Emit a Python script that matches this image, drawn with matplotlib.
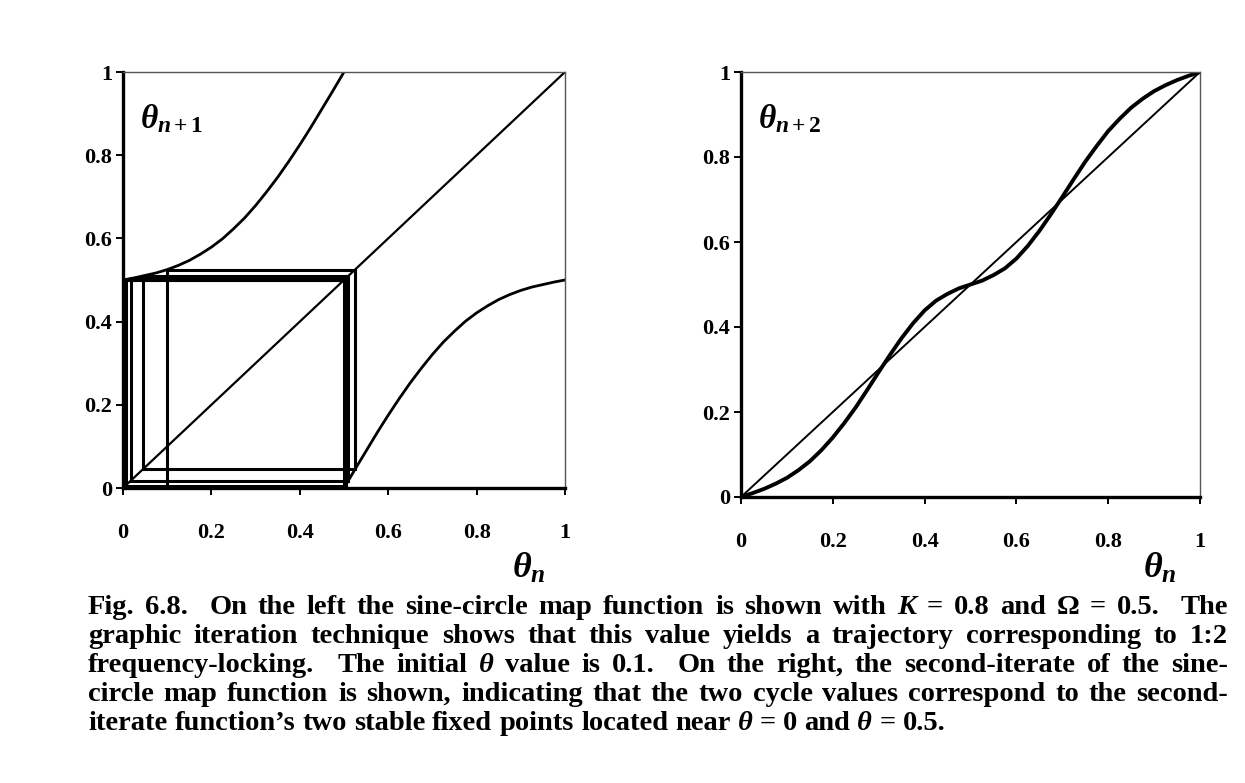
import matplotlib
matplotlib.use("Agg")
import matplotlib.pyplot as plt

plt.rcParams['mathtext.fontset'] = 'custom'
plt.rcParams['mathtext.it'] = 'Liberation Serif:italic:bold'
plt.rcParams['mathtext.rm'] = 'Liberation Serif:bold'
plt.rcParams['mathtext.bf'] = 'Liberation Serif:bold'

# ---------------- data ----------------
theta_left = [0.0, 0.025, 0.05, 0.075, 0.10, 0.125, 0.15, 0.175, 0.20, 0.225, 0.25,
              0.275, 0.30, 0.325, 0.35, 0.375, 0.40, 0.425, 0.45, 0.475, 0.50]
map_upper = [0.500, 0.505, 0.511, 0.517, 0.525, 0.535, 0.547, 0.562, 0.579, 0.599, 0.623,
             0.649, 0.679, 0.712, 0.747, 0.785, 0.825, 0.867, 0.911, 0.955, 1.000]
theta_right = [0.50, 0.525, 0.55, 0.575, 0.60, 0.625, 0.65, 0.675, 0.70, 0.725, 0.75,
               0.775, 0.80, 0.825, 0.85, 0.875, 0.90, 0.925, 0.95, 0.975, 1.00]
map_lower = [0.000, 0.045, 0.089, 0.133, 0.175, 0.215, 0.253, 0.288, 0.321, 0.351, 0.377,
             0.401, 0.421, 0.438, 0.453, 0.465, 0.475, 0.483, 0.489, 0.495, 0.500]

theta_all = [0.0, 0.025, 0.05, 0.075, 0.10, 0.125, 0.15, 0.175, 0.20, 0.225, 0.25,
             0.275, 0.30, 0.325, 0.35, 0.375, 0.40, 0.425, 0.45, 0.475, 0.50,
             0.525, 0.55, 0.575, 0.60, 0.625, 0.65, 0.675, 0.70, 0.725, 0.75,
             0.775, 0.80, 0.825, 0.85, 0.875, 0.90, 0.925, 0.95, 0.975, 1.00]
second_iterate = [0.000, 0.009, 0.019, 0.031, 0.045, 0.063, 0.084, 0.110, 0.140, 0.174, 0.211,
                  0.252, 0.294, 0.335, 0.374, 0.409, 0.439, 0.462, 0.478, 0.491, 0.500,
                  0.509, 0.522, 0.538, 0.561, 0.591, 0.626, 0.665, 0.706, 0.748, 0.789,
                  0.826, 0.861, 0.890, 0.916, 0.937, 0.955, 0.969, 0.981, 0.991, 1.000]

orbit = [0.100, 0.525, 0.045, 0.510, 0.017, 0.504, 0.006, 0.501, 0.002, 0.500]

tick_vals = [0, 0.2, 0.4, 0.6, 0.8, 1]
tick_labels = ["0", "0.2", "0.4", "0.6", "0.8", "1"]

# ---------------- figure ----------------
W, H = 1245, 783
fig = plt.figure(figsize=(W / 100, H / 100), dpi=100)
fig.patch.set_facecolor('white')

def px_axes(l, r, t, b):
    return fig.add_axes([l / W, 1 - b / H, (r - l) / W, (b - t) / H])

axL = px_axes(123, 565, 72, 488)
axR = px_axes(741, 1200, 72, 497)

tick_font = dict(family='Liberation Serif', weight='bold', size=16)

for ax in (axL, axR):
    ax.set_xlim(0, 1)
    ax.set_ylim(0, 1)
    ax.set_xticks(tick_vals)
    ax.set_yticks(tick_vals)
    ax.set_xticklabels(tick_labels, fontdict=tick_font)
    ax.set_yticklabels(tick_labels, fontdict=tick_font)
    ax.tick_params(axis='both', direction='out', length=5, width=1.4, colors='black')
    ax.tick_params(axis='x', pad=20)
    ax.tick_params(axis='y', pad=3)
    for s in ('left', 'bottom'):
        ax.spines[s].set_linewidth(2.4)
        ax.spines[s].set_color('black')
    for s in ('top', 'right'):
        ax.spines[s].set_linewidth(1.0)
        ax.spines[s].set_color('#555555')
    ax.set_facecolor('white')

# Left: sine-circle map and cobweb
axL.plot([0, 1], [0, 1], color='black', lw=1.6)
axL.plot(theta_left, map_upper, color='black', lw=2.0)
axL.plot(theta_right, map_lower, color='black', lw=2.0)

cx = [orbit[0]]
cy = [0.0]
for i in range(len(orbit) - 1):
    cx += [orbit[i], orbit[i + 1]]
    cy += [orbit[i + 1], orbit[i + 1]]
axL.plot(cx, cy, color='black', lw=2.2, solid_joinstyle='miter')

# Right: second iterate
axR.plot([0, 1], [0, 1], color='black', lw=1.4)
axR.plot(theta_all, second_iterate, color='black', lw=2.8)

# Axis titles
fig.text(140 / W, 1 - 128 / H, r'$\theta_{n+1}$', fontsize=24, ha='left', va='baseline')
fig.text(758 / W, 1 - 128 / H, r'$\theta_{n+2}$', fontsize=24, ha='left', va='baseline')
fig.text(512 / W, 1 - 578 / H, r'$\theta_{n}$', fontsize=26, ha='left', va='baseline')
fig.text(1143 / W, 1 - 578 / H, r'$\theta_{n}$', fontsize=26, ha='left', va='baseline')

# ---------------- caption (justified) ----------------
cap_size = 20.5
I = 'italic'
N = 'normal'
lines = [
    [("Fig.", N, 1), ("6.8.", N, 2), ("On", N, 1), ("the", N, 1), ("left", N, 1), ("the", N, 1),
     ("sine-circle", N, 1), ("map", N, 1), ("function", N, 1), ("is", N, 1), ("shown", N, 1),
     ("with", N, 1), ("K", I, 1), ("=", N, 1), ("0.8", N, 1), ("and", N, 1), ("Ω", N, 1),
     ("=", N, 1), ("0.5.", N, 2), ("The", N, 0)],
    [("graphic", N, 1), ("iteration", N, 1), ("technique", N, 1), ("shows", N, 1), ("that", N, 1),
     ("this", N, 1), ("value", N, 1), ("yields", N, 1), ("a", N, 1), ("trajectory", N, 1),
     ("corresponding", N, 1), ("to", N, 1), ("1:2", N, 0)],
    [("frequency-locking.", N, 2), ("The", N, 1), ("initial", N, 1), ("θ", I, 1), ("value", N, 1),
     ("is", N, 1), ("0.1.", N, 2), ("On", N, 1), ("the", N, 1), ("right,", N, 1), ("the", N, 1),
     ("second-iterate", N, 1), ("of", N, 1), ("the", N, 1), ("sine-", N, 0)],
    [("circle", N, 1), ("map", N, 1), ("function", N, 1), ("is", N, 1), ("shown,", N, 1),
     ("indicating", N, 1), ("that", N, 1), ("the", N, 1), ("two", N, 1), ("cycle", N, 1),
     ("values", N, 1), ("correspond", N, 1), ("to", N, 1), ("the", N, 1), ("second-", N, 0)],
    [("iterate", N, 1), ("function’s", N, 1), ("two", N, 1), ("stable", N, 1), ("fixed", N, 1),
     ("points", N, 1), ("located", N, 1), ("near", N, 1), ("θ", I, 1), ("=", N, 1), ("0", N, 1),
     ("and", N, 1), ("θ", I, 1), ("=", N, 1), ("0.5.", N, 0)],
]
baselines = [614, 643, 672, 701, 730]
x_left, x_right = 88, 1228

fig.canvas.draw()
renderer = fig.canvas.get_renderer()

def width_of(t):
    return t.get_window_extent(renderer=renderer).width

probe1 = fig.text(0, 0, "x x", family='Liberation Serif', weight='bold', size=cap_size)
probe2 = fig.text(0, 0, "xx", family='Liberation Serif', weight='bold', size=cap_size)
space_w = width_of(probe1) - width_of(probe2)
probe1.remove(); probe2.remove()

for li, (toks, yb) in enumerate(zip(lines, baselines)):
    objs = []
    for word, style, gapw in toks:
        t = fig.text(0, 1 - yb / H, word, family='Liberation Serif', weight='bold',
                     style=style, size=cap_size, ha='left', va='baseline', color='black')
        objs.append((t, width_of(t), gapw))
    total_w = sum(w for _, w, _ in objs)
    units = sum(g for _, _, g in objs)
    if li < len(lines) - 1:
        unit = max((x_right - x_left - total_w) / units, 2.0)
    else:
        unit = space_w * 1.0
    x = x_left
    for t, w, g in objs:
        t.set_x(x / W)
        x += w + g * unit

fig.savefig("out.png", dpi=100, facecolor='white')
